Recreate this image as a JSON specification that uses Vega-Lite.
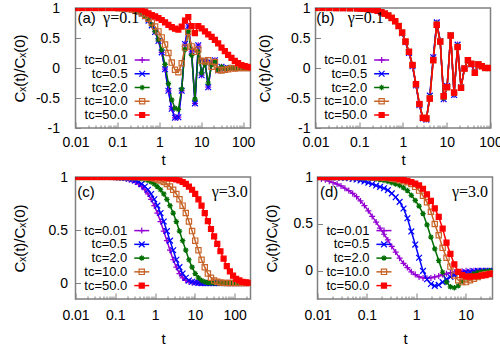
{
"$schema":"https://vega.github.io/schema/vega-lite/v6.json",
"padding":{"left":11.5,"top":0,"right":0,"bottom":0},
"background":"white",
"config":{
 "view":{"stroke":"#808080","strokeWidth":1.5},
 "axis":{"domain":false,"grid":false,"labelFont":"Liberation Sans","labelFontSize":14,"labelColor":"#000","titleFont":"Liberation Sans","titleFontSize":15,"titleFontWeight":"normal","titleColor":"#000","tickColor":"#808080","labelFlush":false,"labelOverlap":false,"labelBound":false}
},
"datasets":{
"a":[
{"s":"tc=0.01","t":0.01,"v":1},{"s":"tc=0.01","t":0.0144,"v":1},{"s":"tc=0.01","t":0.0207,"v":1},{"s":"tc=0.01","t":0.0299,"v":1},{"s":"tc=0.01","t":0.043,"v":1},{"s":"tc=0.01","t":0.0619,"v":1},{"s":"tc=0.01","t":0.0892,"v":0.999},{"s":"tc=0.01","t":0.107,"v":0.998},{"s":"tc=0.01","t":0.128,"v":0.996},{"s":"tc=0.01","t":0.154,"v":0.993},{"s":"tc=0.01","t":0.185,"v":0.985},{"s":"tc=0.01","t":0.222,"v":0.975},{"s":"tc=0.01","t":0.266,"v":0.96},{"s":"tc=0.01","t":0.319,"v":0.94},{"s":"tc=0.01","t":0.383,"v":0.91},{"s":"tc=0.01","t":0.46,"v":0.86},{"s":"tc=0.01","t":0.552,"v":0.79},{"s":"tc=0.01","t":0.662,"v":0.71},{"s":"tc=0.01","t":0.795,"v":0.6},{"s":"tc=0.01","t":0.954,"v":0.45},{"s":"tc=0.01","t":1.14,"v":0.26},{"s":"tc=0.01","t":1.37,"v":-0.02},{"s":"tc=0.01","t":1.65,"v":-0.38},{"s":"tc=0.01","t":1.98,"v":-0.68},{"s":"tc=0.01","t":2.37,"v":-0.83},{"s":"tc=0.01","t":2.85,"v":-0.82},{"s":"tc=0.01","t":3.42,"v":-0.38},{"s":"tc=0.01","t":4.1,"v":0.4},{"s":"tc=0.01","t":4.92,"v":0.7},{"s":"tc=0.01","t":5.91,"v":0.27},{"s":"tc=0.01","t":7.09,"v":-0.59},{"s":"tc=0.01","t":8.51,"v":0.38},{"s":"tc=0.01","t":10.2,"v":-0.12},{"s":"tc=0.01","t":12.3,"v":0.11},{"s":"tc=0.01","t":14.7,"v":-0.32},{"s":"tc=0.01","t":17.7,"v":0.09},{"s":"tc=0.01","t":21.2,"v":0.13},{"s":"tc=0.01","t":25.4,"v":-0.04},{"s":"tc=0.01","t":30.5,"v":0.02},{"s":"tc=0.01","t":36.6,"v":-0.01},{"s":"tc=0.01","t":43.9,"v":0},{"s":"tc=0.01","t":52.7,"v":0},{"s":"tc=0.01","t":63.3,"v":0},{"s":"tc=0.01","t":75.9,"v":0},{"s":"tc=0.01","t":91.1,"v":0},{"s":"tc=0.01","t":109,"v":0},{"s":"tc=0.01","t":131,"v":0},{"s":"tc=0.01","t":157,"v":0},
{"s":"tc=0.5","t":0.01,"v":1},{"s":"tc=0.5","t":0.0144,"v":1},{"s":"tc=0.5","t":0.0207,"v":1},{"s":"tc=0.5","t":0.0299,"v":1},{"s":"tc=0.5","t":0.043,"v":1},{"s":"tc=0.5","t":0.0619,"v":1},{"s":"tc=0.5","t":0.0892,"v":0.999},{"s":"tc=0.5","t":0.107,"v":0.998},{"s":"tc=0.5","t":0.128,"v":0.996},{"s":"tc=0.5","t":0.154,"v":0.993},{"s":"tc=0.5","t":0.185,"v":0.985},{"s":"tc=0.5","t":0.222,"v":0.975},{"s":"tc=0.5","t":0.266,"v":0.96},{"s":"tc=0.5","t":0.319,"v":0.94},{"s":"tc=0.5","t":0.383,"v":0.91},{"s":"tc=0.5","t":0.46,"v":0.86},{"s":"tc=0.5","t":0.552,"v":0.79},{"s":"tc=0.5","t":0.662,"v":0.71},{"s":"tc=0.5","t":0.795,"v":0.6},{"s":"tc=0.5","t":0.954,"v":0.45},{"s":"tc=0.5","t":1.14,"v":0.26},{"s":"tc=0.5","t":1.37,"v":-0.02},{"s":"tc=0.5","t":1.65,"v":-0.38},{"s":"tc=0.5","t":1.98,"v":-0.68},{"s":"tc=0.5","t":2.37,"v":-0.83},{"s":"tc=0.5","t":2.85,"v":-0.82},{"s":"tc=0.5","t":3.42,"v":-0.38},{"s":"tc=0.5","t":4.1,"v":0.4},{"s":"tc=0.5","t":4.92,"v":0.7},{"s":"tc=0.5","t":5.91,"v":0.27},{"s":"tc=0.5","t":7.09,"v":-0.59},{"s":"tc=0.5","t":8.51,"v":0.38},{"s":"tc=0.5","t":10.2,"v":-0.12},{"s":"tc=0.5","t":12.3,"v":0.11},{"s":"tc=0.5","t":14.7,"v":-0.32},{"s":"tc=0.5","t":17.7,"v":0.09},{"s":"tc=0.5","t":21.2,"v":0.13},{"s":"tc=0.5","t":25.4,"v":-0.04},{"s":"tc=0.5","t":30.5,"v":0.02},{"s":"tc=0.5","t":36.6,"v":-0.01},{"s":"tc=0.5","t":43.9,"v":0},{"s":"tc=0.5","t":52.7,"v":0},{"s":"tc=0.5","t":63.3,"v":0},{"s":"tc=0.5","t":75.9,"v":0},{"s":"tc=0.5","t":91.1,"v":0},{"s":"tc=0.5","t":109,"v":0},{"s":"tc=0.5","t":131,"v":0},{"s":"tc=0.5","t":157,"v":0},
{"s":"tc=2.0","t":0.01,"v":1},{"s":"tc=2.0","t":0.0144,"v":1},{"s":"tc=2.0","t":0.0207,"v":1},{"s":"tc=2.0","t":0.0299,"v":1},{"s":"tc=2.0","t":0.043,"v":1},{"s":"tc=2.0","t":0.0619,"v":1},{"s":"tc=2.0","t":0.0892,"v":0.999},{"s":"tc=2.0","t":0.107,"v":0.998},{"s":"tc=2.0","t":0.128,"v":0.996},{"s":"tc=2.0","t":0.154,"v":0.993},{"s":"tc=2.0","t":0.185,"v":0.987},{"s":"tc=2.0","t":0.222,"v":0.977},{"s":"tc=2.0","t":0.266,"v":0.963},{"s":"tc=2.0","t":0.319,"v":0.945},{"s":"tc=2.0","t":0.383,"v":0.915},{"s":"tc=2.0","t":0.46,"v":0.87},{"s":"tc=2.0","t":0.552,"v":0.8},{"s":"tc=2.0","t":0.662,"v":0.72},{"s":"tc=2.0","t":0.795,"v":0.61},{"s":"tc=2.0","t":0.954,"v":0.47},{"s":"tc=2.0","t":1.14,"v":0.3},{"s":"tc=2.0","t":1.37,"v":0.06},{"s":"tc=2.0","t":1.65,"v":-0.26},{"s":"tc=2.0","t":1.98,"v":-0.53},{"s":"tc=2.0","t":2.37,"v":-0.67},{"s":"tc=2.0","t":2.85,"v":-0.69},{"s":"tc=2.0","t":3.42,"v":-0.35},{"s":"tc=2.0","t":4.1,"v":0.31},{"s":"tc=2.0","t":4.92,"v":0.61},{"s":"tc=2.0","t":5.91,"v":0.21},{"s":"tc=2.0","t":7.09,"v":-0.52},{"s":"tc=2.0","t":8.51,"v":0.27},{"s":"tc=2.0","t":10.2,"v":-0.08},{"s":"tc=2.0","t":12.3,"v":0.07},{"s":"tc=2.0","t":14.7,"v":-0.25},{"s":"tc=2.0","t":17.7,"v":0.05},{"s":"tc=2.0","t":21.2,"v":0.11},{"s":"tc=2.0","t":25.4,"v":-0.03},{"s":"tc=2.0","t":30.5,"v":0.02},{"s":"tc=2.0","t":36.6,"v":-0.01},{"s":"tc=2.0","t":43.9,"v":0},{"s":"tc=2.0","t":52.7,"v":0},{"s":"tc=2.0","t":63.3,"v":0},{"s":"tc=2.0","t":75.9,"v":0},{"s":"tc=2.0","t":91.1,"v":0},{"s":"tc=2.0","t":109,"v":0},{"s":"tc=2.0","t":131,"v":0},{"s":"tc=2.0","t":157,"v":0},
{"s":"tc=10.0","t":0.01,"v":1},{"s":"tc=10.0","t":0.0144,"v":1},{"s":"tc=10.0","t":0.0207,"v":1},{"s":"tc=10.0","t":0.0299,"v":1},{"s":"tc=10.0","t":0.043,"v":1},{"s":"tc=10.0","t":0.0619,"v":1},{"s":"tc=10.0","t":0.0892,"v":0.998},{"s":"tc=10.0","t":0.107,"v":0.997},{"s":"tc=10.0","t":0.128,"v":0.995},{"s":"tc=10.0","t":0.154,"v":0.99},{"s":"tc=10.0","t":0.185,"v":0.985},{"s":"tc=10.0","t":0.222,"v":0.975},{"s":"tc=10.0","t":0.266,"v":0.96},{"s":"tc=10.0","t":0.319,"v":0.94},{"s":"tc=10.0","t":0.383,"v":0.91},{"s":"tc=10.0","t":0.46,"v":0.87},{"s":"tc=10.0","t":0.552,"v":0.82},{"s":"tc=10.0","t":0.662,"v":0.76},{"s":"tc=10.0","t":0.795,"v":0.69},{"s":"tc=10.0","t":0.954,"v":0.61},{"s":"tc=10.0","t":1.14,"v":0.51},{"s":"tc=10.0","t":1.37,"v":0.39},{"s":"tc=10.0","t":1.65,"v":0.25},{"s":"tc=10.0","t":1.98,"v":0.09},{"s":"tc=10.0","t":2.37,"v":-0.03},{"s":"tc=10.0","t":2.85,"v":-0.07},{"s":"tc=10.0","t":3.42,"v":0.08},{"s":"tc=10.0","t":4.1,"v":0.34},{"s":"tc=10.0","t":4.92,"v":0.6},{"s":"tc=10.0","t":5.91,"v":0.36},{"s":"tc=10.0","t":7.09,"v":0.27},{"s":"tc=10.0","t":8.51,"v":0.31},{"s":"tc=10.0","t":10.2,"v":0.12},{"s":"tc=10.0","t":12.3,"v":0.11},{"s":"tc=10.0","t":14.7,"v":0.13},{"s":"tc=10.0","t":17.7,"v":0.02},{"s":"tc=10.0","t":21.2,"v":0.1},{"s":"tc=10.0","t":25.4,"v":-0.03},{"s":"tc=10.0","t":30.5,"v":-0.04},{"s":"tc=10.0","t":36.6,"v":-0.03},{"s":"tc=10.0","t":43.9,"v":-0.02},{"s":"tc=10.0","t":52.7,"v":0},{"s":"tc=10.0","t":63.3,"v":-0.01},{"s":"tc=10.0","t":75.9,"v":0},{"s":"tc=10.0","t":91.1,"v":0},{"s":"tc=10.0","t":109,"v":0},{"s":"tc=10.0","t":131,"v":0},{"s":"tc=10.0","t":157,"v":0},
{"s":"tc=50.0","t":0.01,"v":1},{"s":"tc=50.0","t":0.0144,"v":1},{"s":"tc=50.0","t":0.0207,"v":1},{"s":"tc=50.0","t":0.0299,"v":1},{"s":"tc=50.0","t":0.043,"v":1},{"s":"tc=50.0","t":0.0619,"v":1},{"s":"tc=50.0","t":0.0892,"v":1},{"s":"tc=50.0","t":0.107,"v":1},{"s":"tc=50.0","t":0.128,"v":1},{"s":"tc=50.0","t":0.154,"v":0.999},{"s":"tc=50.0","t":0.185,"v":0.998},{"s":"tc=50.0","t":0.222,"v":0.996},{"s":"tc=50.0","t":0.266,"v":0.993},{"s":"tc=50.0","t":0.319,"v":0.985},{"s":"tc=50.0","t":0.383,"v":0.97},{"s":"tc=50.0","t":0.46,"v":0.94},{"s":"tc=50.0","t":0.552,"v":0.91},{"s":"tc=50.0","t":0.662,"v":0.88},{"s":"tc=50.0","t":0.795,"v":0.86},{"s":"tc=50.0","t":0.954,"v":0.83},{"s":"tc=50.0","t":1.14,"v":0.8},{"s":"tc=50.0","t":1.37,"v":0.76},{"s":"tc=50.0","t":1.65,"v":0.72},{"s":"tc=50.0","t":1.98,"v":0.68},{"s":"tc=50.0","t":2.37,"v":0.655},{"s":"tc=50.0","t":2.85,"v":0.64},{"s":"tc=50.0","t":3.42,"v":0.69},{"s":"tc=50.0","t":4.1,"v":0.79},{"s":"tc=50.0","t":4.92,"v":0.85},{"s":"tc=50.0","t":5.91,"v":0.7},{"s":"tc=50.0","t":7.09,"v":0.58},{"s":"tc=50.0","t":8.51,"v":0.7},{"s":"tc=50.0","t":10.2,"v":0.66},{"s":"tc=50.0","t":12.3,"v":0.61},{"s":"tc=50.0","t":14.7,"v":0.56},{"s":"tc=50.0","t":17.7,"v":0.52},{"s":"tc=50.0","t":21.2,"v":0.47},{"s":"tc=50.0","t":25.4,"v":0.41},{"s":"tc=50.0","t":30.5,"v":0.34},{"s":"tc=50.0","t":36.6,"v":0.28},{"s":"tc=50.0","t":43.9,"v":0.22},{"s":"tc=50.0","t":52.7,"v":0.17},{"s":"tc=50.0","t":63.3,"v":0.12},{"s":"tc=50.0","t":75.9,"v":0.08},{"s":"tc=50.0","t":91.1,"v":0.05},{"s":"tc=50.0","t":109,"v":0.03},{"s":"tc=50.0","t":131,"v":0.02},{"s":"tc=50.0","t":157,"v":0.01}
],
"b":[
{"s":"tc=0.01","t":0.01,"v":1},{"s":"tc=0.01","t":0.0144,"v":1},{"s":"tc=0.01","t":0.0207,"v":1},{"s":"tc=0.01","t":0.0299,"v":0.999},{"s":"tc=0.01","t":0.043,"v":0.998},{"s":"tc=0.01","t":0.0619,"v":0.997},{"s":"tc=0.01","t":0.0892,"v":0.995},{"s":"tc=0.01","t":0.107,"v":0.993},{"s":"tc=0.01","t":0.128,"v":0.99},{"s":"tc=0.01","t":0.154,"v":0.985},{"s":"tc=0.01","t":0.185,"v":0.978},{"s":"tc=0.01","t":0.222,"v":0.968},{"s":"tc=0.01","t":0.266,"v":0.952},{"s":"tc=0.01","t":0.319,"v":0.93},{"s":"tc=0.01","t":0.383,"v":0.905},{"s":"tc=0.01","t":0.46,"v":0.875},{"s":"tc=0.01","t":0.552,"v":0.835},{"s":"tc=0.01","t":0.662,"v":0.78},{"s":"tc=0.01","t":0.795,"v":0.695},{"s":"tc=0.01","t":0.954,"v":0.58},{"s":"tc=0.01","t":1.14,"v":0.43},{"s":"tc=0.01","t":1.37,"v":0.25},{"s":"tc=0.01","t":1.65,"v":0.03},{"s":"tc=0.01","t":1.98,"v":-0.29},{"s":"tc=0.01","t":2.37,"v":-0.62},{"s":"tc=0.01","t":2.85,"v":-0.84},{"s":"tc=0.01","t":3.42,"v":-0.86},{"s":"tc=0.01","t":4.1,"v":-0.46},{"s":"tc=0.01","t":4.92,"v":0.18},{"s":"tc=0.01","t":5.91,"v":0.76},{"s":"tc=0.01","t":7.09,"v":0.45},{"s":"tc=0.01","t":8.51,"v":-0.52},{"s":"tc=0.01","t":10.2,"v":-0.3},{"s":"tc=0.01","t":12.3,"v":0.55},{"s":"tc=0.01","t":14.7,"v":-0.45},{"s":"tc=0.01","t":17.7,"v":0.39},{"s":"tc=0.01","t":21.2,"v":-0.32},{"s":"tc=0.01","t":25.4,"v":0},{"s":"tc=0.01","t":30.5,"v":0.13},{"s":"tc=0.01","t":36.6,"v":0.06},{"s":"tc=0.01","t":43.9,"v":-0.07},{"s":"tc=0.01","t":52.7,"v":0.06},{"s":"tc=0.01","t":63.3,"v":0.03},{"s":"tc=0.01","t":75.9,"v":0},{"s":"tc=0.01","t":91.1,"v":0},{"s":"tc=0.01","t":109,"v":0},
{"s":"tc=0.5","t":0.01,"v":1},{"s":"tc=0.5","t":0.0144,"v":1},{"s":"tc=0.5","t":0.0207,"v":1},{"s":"tc=0.5","t":0.0299,"v":0.999},{"s":"tc=0.5","t":0.043,"v":0.998},{"s":"tc=0.5","t":0.0619,"v":0.997},{"s":"tc=0.5","t":0.0892,"v":0.995},{"s":"tc=0.5","t":0.107,"v":0.993},{"s":"tc=0.5","t":0.128,"v":0.99},{"s":"tc=0.5","t":0.154,"v":0.985},{"s":"tc=0.5","t":0.185,"v":0.978},{"s":"tc=0.5","t":0.222,"v":0.968},{"s":"tc=0.5","t":0.266,"v":0.952},{"s":"tc=0.5","t":0.319,"v":0.93},{"s":"tc=0.5","t":0.383,"v":0.905},{"s":"tc=0.5","t":0.46,"v":0.875},{"s":"tc=0.5","t":0.552,"v":0.835},{"s":"tc=0.5","t":0.662,"v":0.78},{"s":"tc=0.5","t":0.795,"v":0.695},{"s":"tc=0.5","t":0.954,"v":0.58},{"s":"tc=0.5","t":1.14,"v":0.43},{"s":"tc=0.5","t":1.37,"v":0.25},{"s":"tc=0.5","t":1.65,"v":0.03},{"s":"tc=0.5","t":1.98,"v":-0.29},{"s":"tc=0.5","t":2.37,"v":-0.62},{"s":"tc=0.5","t":2.85,"v":-0.84},{"s":"tc=0.5","t":3.42,"v":-0.86},{"s":"tc=0.5","t":4.1,"v":-0.46},{"s":"tc=0.5","t":4.92,"v":0.18},{"s":"tc=0.5","t":5.91,"v":0.76},{"s":"tc=0.5","t":7.09,"v":0.45},{"s":"tc=0.5","t":8.51,"v":-0.52},{"s":"tc=0.5","t":10.2,"v":-0.3},{"s":"tc=0.5","t":12.3,"v":0.55},{"s":"tc=0.5","t":14.7,"v":-0.45},{"s":"tc=0.5","t":17.7,"v":0.39},{"s":"tc=0.5","t":21.2,"v":-0.32},{"s":"tc=0.5","t":25.4,"v":0},{"s":"tc=0.5","t":30.5,"v":0.13},{"s":"tc=0.5","t":36.6,"v":0.06},{"s":"tc=0.5","t":43.9,"v":-0.07},{"s":"tc=0.5","t":52.7,"v":0.06},{"s":"tc=0.5","t":63.3,"v":0.03},{"s":"tc=0.5","t":75.9,"v":0},{"s":"tc=0.5","t":91.1,"v":0},{"s":"tc=0.5","t":109,"v":0},
{"s":"tc=2.0","t":0.01,"v":1},{"s":"tc=2.0","t":0.0144,"v":1},{"s":"tc=2.0","t":0.0207,"v":1},{"s":"tc=2.0","t":0.0299,"v":0.999},{"s":"tc=2.0","t":0.043,"v":0.998},{"s":"tc=2.0","t":0.0619,"v":0.997},{"s":"tc=2.0","t":0.0892,"v":0.995},{"s":"tc=2.0","t":0.107,"v":0.993},{"s":"tc=2.0","t":0.128,"v":0.99},{"s":"tc=2.0","t":0.154,"v":0.985},{"s":"tc=2.0","t":0.185,"v":0.978},{"s":"tc=2.0","t":0.222,"v":0.968},{"s":"tc=2.0","t":0.266,"v":0.952},{"s":"tc=2.0","t":0.319,"v":0.93},{"s":"tc=2.0","t":0.383,"v":0.905},{"s":"tc=2.0","t":0.46,"v":0.875},{"s":"tc=2.0","t":0.552,"v":0.835},{"s":"tc=2.0","t":0.662,"v":0.78},{"s":"tc=2.0","t":0.795,"v":0.7},{"s":"tc=2.0","t":0.954,"v":0.59},{"s":"tc=2.0","t":1.14,"v":0.44},{"s":"tc=2.0","t":1.37,"v":0.27},{"s":"tc=2.0","t":1.65,"v":0.05},{"s":"tc=2.0","t":1.98,"v":-0.27},{"s":"tc=2.0","t":2.37,"v":-0.6},{"s":"tc=2.0","t":2.85,"v":-0.835},{"s":"tc=2.0","t":3.42,"v":-0.85},{"s":"tc=2.0","t":4.1,"v":-0.48},{"s":"tc=2.0","t":4.92,"v":0.15},{"s":"tc=2.0","t":5.91,"v":0.74},{"s":"tc=2.0","t":7.09,"v":0.44},{"s":"tc=2.0","t":8.51,"v":-0.5},{"s":"tc=2.0","t":10.2,"v":-0.31},{"s":"tc=2.0","t":12.3,"v":0.545},{"s":"tc=2.0","t":14.7,"v":-0.43},{"s":"tc=2.0","t":17.7,"v":0.37},{"s":"tc=2.0","t":21.2,"v":-0.325},{"s":"tc=2.0","t":25.4,"v":-0.005},{"s":"tc=2.0","t":30.5,"v":0.13},{"s":"tc=2.0","t":36.6,"v":0.065},{"s":"tc=2.0","t":43.9,"v":-0.075},{"s":"tc=2.0","t":52.7,"v":0.06},{"s":"tc=2.0","t":63.3,"v":0.03},{"s":"tc=2.0","t":75.9,"v":0},{"s":"tc=2.0","t":91.1,"v":0},{"s":"tc=2.0","t":109,"v":0},
{"s":"tc=10.0","t":0.01,"v":1},{"s":"tc=10.0","t":0.0144,"v":1},{"s":"tc=10.0","t":0.0207,"v":1},{"s":"tc=10.0","t":0.0299,"v":0.999},{"s":"tc=10.0","t":0.043,"v":0.998},{"s":"tc=10.0","t":0.0619,"v":0.997},{"s":"tc=10.0","t":0.0892,"v":0.995},{"s":"tc=10.0","t":0.107,"v":0.993},{"s":"tc=10.0","t":0.128,"v":0.99},{"s":"tc=10.0","t":0.154,"v":0.985},{"s":"tc=10.0","t":0.185,"v":0.978},{"s":"tc=10.0","t":0.222,"v":0.968},{"s":"tc=10.0","t":0.266,"v":0.952},{"s":"tc=10.0","t":0.319,"v":0.93},{"s":"tc=10.0","t":0.383,"v":0.905},{"s":"tc=10.0","t":0.46,"v":0.875},{"s":"tc=10.0","t":0.552,"v":0.835},{"s":"tc=10.0","t":0.662,"v":0.78},{"s":"tc=10.0","t":0.795,"v":0.7},{"s":"tc=10.0","t":0.954,"v":0.59},{"s":"tc=10.0","t":1.14,"v":0.44},{"s":"tc=10.0","t":1.37,"v":0.27},{"s":"tc=10.0","t":1.65,"v":0.05},{"s":"tc=10.0","t":1.98,"v":-0.27},{"s":"tc=10.0","t":2.37,"v":-0.6},{"s":"tc=10.0","t":2.85,"v":-0.83},{"s":"tc=10.0","t":3.42,"v":-0.84},{"s":"tc=10.0","t":4.1,"v":-0.51},{"s":"tc=10.0","t":4.92,"v":0.13},{"s":"tc=10.0","t":5.91,"v":0.72},{"s":"tc=10.0","t":7.09,"v":0.44},{"s":"tc=10.0","t":8.51,"v":-0.47},{"s":"tc=10.0","t":10.2,"v":-0.32},{"s":"tc=10.0","t":12.3,"v":0.54},{"s":"tc=10.0","t":14.7,"v":-0.41},{"s":"tc=10.0","t":17.7,"v":0.35},{"s":"tc=10.0","t":21.2,"v":-0.33},{"s":"tc=10.0","t":25.4,"v":-0.01},{"s":"tc=10.0","t":30.5,"v":0.13},{"s":"tc=10.0","t":36.6,"v":0.07},{"s":"tc=10.0","t":43.9,"v":-0.08},{"s":"tc=10.0","t":52.7,"v":0.06},{"s":"tc=10.0","t":63.3,"v":0.03},{"s":"tc=10.0","t":75.9,"v":0},{"s":"tc=10.0","t":91.1,"v":0},{"s":"tc=10.0","t":109,"v":0},
{"s":"tc=50.0","t":0.01,"v":1},{"s":"tc=50.0","t":0.0144,"v":1},{"s":"tc=50.0","t":0.0207,"v":1},{"s":"tc=50.0","t":0.0299,"v":0.999},{"s":"tc=50.0","t":0.043,"v":0.998},{"s":"tc=50.0","t":0.0619,"v":0.997},{"s":"tc=50.0","t":0.0892,"v":0.995},{"s":"tc=50.0","t":0.107,"v":0.993},{"s":"tc=50.0","t":0.128,"v":0.99},{"s":"tc=50.0","t":0.154,"v":0.985},{"s":"tc=50.0","t":0.185,"v":0.978},{"s":"tc=50.0","t":0.222,"v":0.968},{"s":"tc=50.0","t":0.266,"v":0.952},{"s":"tc=50.0","t":0.319,"v":0.93},{"s":"tc=50.0","t":0.383,"v":0.905},{"s":"tc=50.0","t":0.46,"v":0.875},{"s":"tc=50.0","t":0.552,"v":0.835},{"s":"tc=50.0","t":0.662,"v":0.78},{"s":"tc=50.0","t":0.795,"v":0.7},{"s":"tc=50.0","t":0.954,"v":0.59},{"s":"tc=50.0","t":1.14,"v":0.44},{"s":"tc=50.0","t":1.37,"v":0.27},{"s":"tc=50.0","t":1.65,"v":0.05},{"s":"tc=50.0","t":1.98,"v":-0.27},{"s":"tc=50.0","t":2.37,"v":-0.6},{"s":"tc=50.0","t":2.85,"v":-0.83},{"s":"tc=50.0","t":3.42,"v":-0.84},{"s":"tc=50.0","t":4.1,"v":-0.51},{"s":"tc=50.0","t":4.92,"v":0.13},{"s":"tc=50.0","t":5.91,"v":0.72},{"s":"tc=50.0","t":7.09,"v":0.44},{"s":"tc=50.0","t":8.51,"v":-0.47},{"s":"tc=50.0","t":10.2,"v":-0.32},{"s":"tc=50.0","t":12.3,"v":0.54},{"s":"tc=50.0","t":14.7,"v":-0.41},{"s":"tc=50.0","t":17.7,"v":0.35},{"s":"tc=50.0","t":21.2,"v":-0.33},{"s":"tc=50.0","t":25.4,"v":-0.01},{"s":"tc=50.0","t":30.5,"v":0.13},{"s":"tc=50.0","t":36.6,"v":0.07},{"s":"tc=50.0","t":43.9,"v":-0.08},{"s":"tc=50.0","t":52.7,"v":0.06},{"s":"tc=50.0","t":63.3,"v":0.03},{"s":"tc=50.0","t":75.9,"v":0},{"s":"tc=50.0","t":91.1,"v":0},{"s":"tc=50.0","t":109,"v":0}
],
"c":[
{"s":"tc=0.01","t":0.01,"v":1},{"s":"tc=0.01","t":0.0144,"v":1},{"s":"tc=0.01","t":0.0207,"v":1},{"s":"tc=0.01","t":0.0299,"v":1},{"s":"tc=0.01","t":0.043,"v":1},{"s":"tc=0.01","t":0.0619,"v":0.999},{"s":"tc=0.01","t":0.0892,"v":0.998},{"s":"tc=0.01","t":0.107,"v":0.996},{"s":"tc=0.01","t":0.128,"v":0.993},{"s":"tc=0.01","t":0.154,"v":0.99},{"s":"tc=0.01","t":0.185,"v":0.985},{"s":"tc=0.01","t":0.222,"v":0.977},{"s":"tc=0.01","t":0.266,"v":0.967},{"s":"tc=0.01","t":0.319,"v":0.953},{"s":"tc=0.01","t":0.383,"v":0.935},{"s":"tc=0.01","t":0.46,"v":0.91},{"s":"tc=0.01","t":0.552,"v":0.88},{"s":"tc=0.01","t":0.662,"v":0.84},{"s":"tc=0.01","t":0.795,"v":0.79},{"s":"tc=0.01","t":0.954,"v":0.73},{"s":"tc=0.01","t":1.14,"v":0.66},{"s":"tc=0.01","t":1.37,"v":0.58},{"s":"tc=0.01","t":1.65,"v":0.49},{"s":"tc=0.01","t":1.98,"v":0.4},{"s":"tc=0.01","t":2.37,"v":0.31},{"s":"tc=0.01","t":2.85,"v":0.22},{"s":"tc=0.01","t":3.42,"v":0.15},{"s":"tc=0.01","t":4.1,"v":0.09},{"s":"tc=0.01","t":4.92,"v":0.05},{"s":"tc=0.01","t":5.91,"v":0.025},{"s":"tc=0.01","t":7.09,"v":0.012},{"s":"tc=0.01","t":8.51,"v":0.005},{"s":"tc=0.01","t":10.2,"v":0.002},{"s":"tc=0.01","t":12.3,"v":0},{"s":"tc=0.01","t":14.7,"v":0},{"s":"tc=0.01","t":17.7,"v":0},{"s":"tc=0.01","t":21.2,"v":0},{"s":"tc=0.01","t":25.4,"v":0},{"s":"tc=0.01","t":30.5,"v":0},{"s":"tc=0.01","t":36.6,"v":0},{"s":"tc=0.01","t":43.9,"v":0},{"s":"tc=0.01","t":52.7,"v":0},{"s":"tc=0.01","t":63.3,"v":0},{"s":"tc=0.01","t":75.9,"v":0},{"s":"tc=0.01","t":91.1,"v":0},{"s":"tc=0.01","t":109,"v":0},{"s":"tc=0.01","t":131,"v":0},{"s":"tc=0.01","t":157,"v":0},{"s":"tc=0.01","t":189,"v":0},{"s":"tc=0.01","t":227,"v":0},
{"s":"tc=0.5","t":0.01,"v":1},{"s":"tc=0.5","t":0.0144,"v":1},{"s":"tc=0.5","t":0.0207,"v":1},{"s":"tc=0.5","t":0.0299,"v":1},{"s":"tc=0.5","t":0.043,"v":1},{"s":"tc=0.5","t":0.0619,"v":1},{"s":"tc=0.5","t":0.0892,"v":0.999},{"s":"tc=0.5","t":0.107,"v":0.998},{"s":"tc=0.5","t":0.128,"v":0.996},{"s":"tc=0.5","t":0.154,"v":0.993},{"s":"tc=0.5","t":0.185,"v":0.99},{"s":"tc=0.5","t":0.222,"v":0.985},{"s":"tc=0.5","t":0.266,"v":0.977},{"s":"tc=0.5","t":0.319,"v":0.967},{"s":"tc=0.5","t":0.383,"v":0.953},{"s":"tc=0.5","t":0.46,"v":0.935},{"s":"tc=0.5","t":0.552,"v":0.91},{"s":"tc=0.5","t":0.662,"v":0.88},{"s":"tc=0.5","t":0.795,"v":0.84},{"s":"tc=0.5","t":0.954,"v":0.79},{"s":"tc=0.5","t":1.14,"v":0.73},{"s":"tc=0.5","t":1.37,"v":0.66},{"s":"tc=0.5","t":1.65,"v":0.58},{"s":"tc=0.5","t":1.98,"v":0.49},{"s":"tc=0.5","t":2.37,"v":0.4},{"s":"tc=0.5","t":2.85,"v":0.31},{"s":"tc=0.5","t":3.42,"v":0.22},{"s":"tc=0.5","t":4.1,"v":0.15},{"s":"tc=0.5","t":4.92,"v":0.09},{"s":"tc=0.5","t":5.91,"v":0.05},{"s":"tc=0.5","t":7.09,"v":0.025},{"s":"tc=0.5","t":8.51,"v":0.012},{"s":"tc=0.5","t":10.2,"v":0.005},{"s":"tc=0.5","t":12.3,"v":0.002},{"s":"tc=0.5","t":14.7,"v":0},{"s":"tc=0.5","t":17.7,"v":0},{"s":"tc=0.5","t":21.2,"v":0},{"s":"tc=0.5","t":25.4,"v":0},{"s":"tc=0.5","t":30.5,"v":0},{"s":"tc=0.5","t":36.6,"v":0},{"s":"tc=0.5","t":43.9,"v":0},{"s":"tc=0.5","t":52.7,"v":0},{"s":"tc=0.5","t":63.3,"v":0},{"s":"tc=0.5","t":75.9,"v":0},{"s":"tc=0.5","t":91.1,"v":0},{"s":"tc=0.5","t":109,"v":0},{"s":"tc=0.5","t":131,"v":0},{"s":"tc=0.5","t":157,"v":0},{"s":"tc=0.5","t":189,"v":0},{"s":"tc=0.5","t":227,"v":0},
{"s":"tc=2.0","t":0.01,"v":1},{"s":"tc=2.0","t":0.0144,"v":1},{"s":"tc=2.0","t":0.0207,"v":1},{"s":"tc=2.0","t":0.0299,"v":1},{"s":"tc=2.0","t":0.043,"v":1},{"s":"tc=2.0","t":0.0619,"v":1},{"s":"tc=2.0","t":0.0892,"v":1},{"s":"tc=2.0","t":0.107,"v":1},{"s":"tc=2.0","t":0.128,"v":1},{"s":"tc=2.0","t":0.154,"v":0.999},{"s":"tc=2.0","t":0.185,"v":0.999},{"s":"tc=2.0","t":0.222,"v":0.998},{"s":"tc=2.0","t":0.266,"v":0.996},{"s":"tc=2.0","t":0.319,"v":0.993},{"s":"tc=2.0","t":0.383,"v":0.99},{"s":"tc=2.0","t":0.46,"v":0.985},{"s":"tc=2.0","t":0.552,"v":0.977},{"s":"tc=2.0","t":0.662,"v":0.967},{"s":"tc=2.0","t":0.795,"v":0.953},{"s":"tc=2.0","t":0.954,"v":0.935},{"s":"tc=2.0","t":1.14,"v":0.91},{"s":"tc=2.0","t":1.37,"v":0.88},{"s":"tc=2.0","t":1.65,"v":0.84},{"s":"tc=2.0","t":1.98,"v":0.79},{"s":"tc=2.0","t":2.37,"v":0.73},{"s":"tc=2.0","t":2.85,"v":0.66},{"s":"tc=2.0","t":3.42,"v":0.58},{"s":"tc=2.0","t":4.1,"v":0.49},{"s":"tc=2.0","t":4.92,"v":0.4},{"s":"tc=2.0","t":5.91,"v":0.31},{"s":"tc=2.0","t":7.09,"v":0.22},{"s":"tc=2.0","t":8.51,"v":0.15},{"s":"tc=2.0","t":10.2,"v":0.09},{"s":"tc=2.0","t":12.3,"v":0.05},{"s":"tc=2.0","t":14.7,"v":0.025},{"s":"tc=2.0","t":17.7,"v":0.012},{"s":"tc=2.0","t":21.2,"v":0.005},{"s":"tc=2.0","t":25.4,"v":0.002},{"s":"tc=2.0","t":30.5,"v":0},{"s":"tc=2.0","t":36.6,"v":0},{"s":"tc=2.0","t":43.9,"v":0},{"s":"tc=2.0","t":52.7,"v":0},{"s":"tc=2.0","t":63.3,"v":0},{"s":"tc=2.0","t":75.9,"v":0},{"s":"tc=2.0","t":91.1,"v":0},{"s":"tc=2.0","t":109,"v":0},{"s":"tc=2.0","t":131,"v":0},{"s":"tc=2.0","t":157,"v":0},{"s":"tc=2.0","t":189,"v":0},{"s":"tc=2.0","t":227,"v":0},
{"s":"tc=10.0","t":0.01,"v":1},{"s":"tc=10.0","t":0.0144,"v":1},{"s":"tc=10.0","t":0.0207,"v":1},{"s":"tc=10.0","t":0.0299,"v":1},{"s":"tc=10.0","t":0.043,"v":1},{"s":"tc=10.0","t":0.0619,"v":1},{"s":"tc=10.0","t":0.0892,"v":1},{"s":"tc=10.0","t":0.107,"v":1},{"s":"tc=10.0","t":0.128,"v":1},{"s":"tc=10.0","t":0.154,"v":1},{"s":"tc=10.0","t":0.185,"v":1},{"s":"tc=10.0","t":0.222,"v":1},{"s":"tc=10.0","t":0.266,"v":1},{"s":"tc=10.0","t":0.319,"v":0.999},{"s":"tc=10.0","t":0.383,"v":0.999},{"s":"tc=10.0","t":0.46,"v":0.998},{"s":"tc=10.0","t":0.552,"v":0.996},{"s":"tc=10.0","t":0.662,"v":0.993},{"s":"tc=10.0","t":0.795,"v":0.99},{"s":"tc=10.0","t":0.954,"v":0.985},{"s":"tc=10.0","t":1.14,"v":0.977},{"s":"tc=10.0","t":1.37,"v":0.967},{"s":"tc=10.0","t":1.65,"v":0.953},{"s":"tc=10.0","t":1.98,"v":0.935},{"s":"tc=10.0","t":2.37,"v":0.91},{"s":"tc=10.0","t":2.85,"v":0.88},{"s":"tc=10.0","t":3.42,"v":0.84},{"s":"tc=10.0","t":4.1,"v":0.79},{"s":"tc=10.0","t":4.92,"v":0.73},{"s":"tc=10.0","t":5.91,"v":0.66},{"s":"tc=10.0","t":7.09,"v":0.58},{"s":"tc=10.0","t":8.51,"v":0.49},{"s":"tc=10.0","t":10.2,"v":0.4},{"s":"tc=10.0","t":12.3,"v":0.31},{"s":"tc=10.0","t":14.7,"v":0.22},{"s":"tc=10.0","t":17.7,"v":0.15},{"s":"tc=10.0","t":21.2,"v":0.09},{"s":"tc=10.0","t":25.4,"v":0.05},{"s":"tc=10.0","t":30.5,"v":0.025},{"s":"tc=10.0","t":36.6,"v":0.012},{"s":"tc=10.0","t":43.9,"v":0.005},{"s":"tc=10.0","t":52.7,"v":0.002},{"s":"tc=10.0","t":63.3,"v":0},{"s":"tc=10.0","t":75.9,"v":0},{"s":"tc=10.0","t":91.1,"v":0},{"s":"tc=10.0","t":109,"v":0},{"s":"tc=10.0","t":131,"v":0},{"s":"tc=10.0","t":157,"v":0},{"s":"tc=10.0","t":189,"v":0},{"s":"tc=10.0","t":227,"v":0},
{"s":"tc=50.0","t":0.01,"v":1},{"s":"tc=50.0","t":0.0144,"v":1},{"s":"tc=50.0","t":0.0207,"v":1},{"s":"tc=50.0","t":0.0299,"v":1},{"s":"tc=50.0","t":0.043,"v":1},{"s":"tc=50.0","t":0.0619,"v":1},{"s":"tc=50.0","t":0.0892,"v":1},{"s":"tc=50.0","t":0.107,"v":1},{"s":"tc=50.0","t":0.128,"v":1},{"s":"tc=50.0","t":0.154,"v":1},{"s":"tc=50.0","t":0.185,"v":1},{"s":"tc=50.0","t":0.222,"v":1},{"s":"tc=50.0","t":0.266,"v":1},{"s":"tc=50.0","t":0.319,"v":1},{"s":"tc=50.0","t":0.383,"v":1},{"s":"tc=50.0","t":0.46,"v":1},{"s":"tc=50.0","t":0.552,"v":1},{"s":"tc=50.0","t":0.662,"v":0.999},{"s":"tc=50.0","t":0.795,"v":0.999},{"s":"tc=50.0","t":0.954,"v":0.999},{"s":"tc=50.0","t":1.14,"v":0.999},{"s":"tc=50.0","t":1.37,"v":0.998},{"s":"tc=50.0","t":1.65,"v":0.996},{"s":"tc=50.0","t":1.98,"v":0.993},{"s":"tc=50.0","t":2.37,"v":0.99},{"s":"tc=50.0","t":2.85,"v":0.985},{"s":"tc=50.0","t":3.42,"v":0.977},{"s":"tc=50.0","t":4.1,"v":0.967},{"s":"tc=50.0","t":4.92,"v":0.953},{"s":"tc=50.0","t":5.91,"v":0.935},{"s":"tc=50.0","t":7.09,"v":0.91},{"s":"tc=50.0","t":8.51,"v":0.88},{"s":"tc=50.0","t":10.2,"v":0.84},{"s":"tc=50.0","t":12.3,"v":0.79},{"s":"tc=50.0","t":14.7,"v":0.73},{"s":"tc=50.0","t":17.7,"v":0.66},{"s":"tc=50.0","t":21.2,"v":0.585},{"s":"tc=50.0","t":25.4,"v":0.51},{"s":"tc=50.0","t":30.5,"v":0.44},{"s":"tc=50.0","t":36.6,"v":0.37},{"s":"tc=50.0","t":43.9,"v":0.3},{"s":"tc=50.0","t":52.7,"v":0.23},{"s":"tc=50.0","t":63.3,"v":0.16},{"s":"tc=50.0","t":75.9,"v":0.11},{"s":"tc=50.0","t":91.1,"v":0.07},{"s":"tc=50.0","t":109,"v":0.04},{"s":"tc=50.0","t":131,"v":0.025},{"s":"tc=50.0","t":157,"v":0.012},{"s":"tc=50.0","t":189,"v":0.006},{"s":"tc=50.0","t":227,"v":0.003}
],
"d":[
{"s":"tc=0.01","t":0.01,"v":0.99},{"s":"tc=0.01","t":0.012,"v":0.98},{"s":"tc=0.01","t":0.0144,"v":0.97},{"s":"tc=0.01","t":0.0173,"v":0.955},{"s":"tc=0.01","t":0.0207,"v":0.94},{"s":"tc=0.01","t":0.0249,"v":0.925},{"s":"tc=0.01","t":0.0299,"v":0.905},{"s":"tc=0.01","t":0.0358,"v":0.88},{"s":"tc=0.01","t":0.043,"v":0.855},{"s":"tc=0.01","t":0.0516,"v":0.825},{"s":"tc=0.01","t":0.0619,"v":0.79},{"s":"tc=0.01","t":0.0743,"v":0.745},{"s":"tc=0.01","t":0.0892,"v":0.695},{"s":"tc=0.01","t":0.107,"v":0.64},{"s":"tc=0.01","t":0.128,"v":0.58},{"s":"tc=0.01","t":0.154,"v":0.52},{"s":"tc=0.01","t":0.185,"v":0.455},{"s":"tc=0.01","t":0.222,"v":0.39},{"s":"tc=0.01","t":0.266,"v":0.33},{"s":"tc=0.01","t":0.319,"v":0.26},{"s":"tc=0.01","t":0.383,"v":0.2},{"s":"tc=0.01","t":0.46,"v":0.135},{"s":"tc=0.01","t":0.552,"v":0.08},{"s":"tc=0.01","t":0.662,"v":0.035},{"s":"tc=0.01","t":0.795,"v":-0.01},{"s":"tc=0.01","t":0.954,"v":-0.04},{"s":"tc=0.01","t":1.14,"v":-0.065},{"s":"tc=0.01","t":1.37,"v":-0.075},{"s":"tc=0.01","t":1.65,"v":-0.08},{"s":"tc=0.01","t":1.98,"v":-0.075},{"s":"tc=0.01","t":2.37,"v":-0.065},{"s":"tc=0.01","t":2.85,"v":-0.055},{"s":"tc=0.01","t":3.42,"v":-0.04},{"s":"tc=0.01","t":4.1,"v":-0.03},{"s":"tc=0.01","t":4.92,"v":-0.02},{"s":"tc=0.01","t":5.91,"v":-0.015},{"s":"tc=0.01","t":7.09,"v":-0.01},{"s":"tc=0.01","t":8.51,"v":-0.005},{"s":"tc=0.01","t":10.2,"v":0},{"s":"tc=0.01","t":12.3,"v":0},{"s":"tc=0.01","t":14.7,"v":0},{"s":"tc=0.01","t":17.7,"v":0},{"s":"tc=0.01","t":21.2,"v":0},{"s":"tc=0.01","t":25.4,"v":0},{"s":"tc=0.01","t":30.5,"v":0},{"s":"tc=0.01","t":36.6,"v":0},
{"s":"tc=0.5","t":0.01,"v":1},{"s":"tc=0.5","t":0.012,"v":1},{"s":"tc=0.5","t":0.0144,"v":0.999},{"s":"tc=0.5","t":0.0173,"v":0.998},{"s":"tc=0.5","t":0.0207,"v":0.997},{"s":"tc=0.5","t":0.0249,"v":0.995},{"s":"tc=0.5","t":0.0299,"v":0.993},{"s":"tc=0.5","t":0.0358,"v":0.99},{"s":"tc=0.5","t":0.043,"v":0.986},{"s":"tc=0.5","t":0.0516,"v":0.98},{"s":"tc=0.5","t":0.0619,"v":0.973},{"s":"tc=0.5","t":0.0743,"v":0.963},{"s":"tc=0.5","t":0.0892,"v":0.952},{"s":"tc=0.5","t":0.107,"v":0.94},{"s":"tc=0.5","t":0.128,"v":0.925},{"s":"tc=0.5","t":0.154,"v":0.91},{"s":"tc=0.5","t":0.185,"v":0.895},{"s":"tc=0.5","t":0.222,"v":0.88},{"s":"tc=0.5","t":0.266,"v":0.86},{"s":"tc=0.5","t":0.319,"v":0.825},{"s":"tc=0.5","t":0.383,"v":0.785},{"s":"tc=0.5","t":0.46,"v":0.735},{"s":"tc=0.5","t":0.552,"v":0.665},{"s":"tc=0.5","t":0.662,"v":0.56},{"s":"tc=0.5","t":0.795,"v":0.42},{"s":"tc=0.5","t":0.954,"v":0.28},{"s":"tc=0.5","t":1.14,"v":0.14},{"s":"tc=0.5","t":1.37,"v":0},{"s":"tc=0.5","t":1.65,"v":-0.09},{"s":"tc=0.5","t":1.98,"v":-0.14},{"s":"tc=0.5","t":2.37,"v":-0.16},{"s":"tc=0.5","t":2.85,"v":-0.15},{"s":"tc=0.5","t":3.42,"v":-0.12},{"s":"tc=0.5","t":4.1,"v":-0.09},{"s":"tc=0.5","t":4.92,"v":-0.065},{"s":"tc=0.5","t":5.91,"v":-0.045},{"s":"tc=0.5","t":7.09,"v":-0.03},{"s":"tc=0.5","t":8.51,"v":-0.02},{"s":"tc=0.5","t":10.2,"v":-0.015},{"s":"tc=0.5","t":12.3,"v":-0.01},{"s":"tc=0.5","t":14.7,"v":-0.005},{"s":"tc=0.5","t":17.7,"v":0},{"s":"tc=0.5","t":21.2,"v":0},{"s":"tc=0.5","t":25.4,"v":0},{"s":"tc=0.5","t":30.5,"v":0},{"s":"tc=0.5","t":36.6,"v":0},
{"s":"tc=2.0","t":0.01,"v":1},{"s":"tc=2.0","t":0.012,"v":1},{"s":"tc=2.0","t":0.0144,"v":1},{"s":"tc=2.0","t":0.0173,"v":1},{"s":"tc=2.0","t":0.0207,"v":1},{"s":"tc=2.0","t":0.0249,"v":1},{"s":"tc=2.0","t":0.0299,"v":1},{"s":"tc=2.0","t":0.0358,"v":1},{"s":"tc=2.0","t":0.043,"v":0.999},{"s":"tc=2.0","t":0.0516,"v":0.998},{"s":"tc=2.0","t":0.0619,"v":0.997},{"s":"tc=2.0","t":0.0743,"v":0.995},{"s":"tc=2.0","t":0.0892,"v":0.993},{"s":"tc=2.0","t":0.107,"v":0.99},{"s":"tc=2.0","t":0.128,"v":0.986},{"s":"tc=2.0","t":0.154,"v":0.98},{"s":"tc=2.0","t":0.185,"v":0.973},{"s":"tc=2.0","t":0.222,"v":0.963},{"s":"tc=2.0","t":0.266,"v":0.952},{"s":"tc=2.0","t":0.319,"v":0.94},{"s":"tc=2.0","t":0.383,"v":0.925},{"s":"tc=2.0","t":0.46,"v":0.91},{"s":"tc=2.0","t":0.552,"v":0.885},{"s":"tc=2.0","t":0.662,"v":0.855},{"s":"tc=2.0","t":0.795,"v":0.805},{"s":"tc=2.0","t":0.954,"v":0.75},{"s":"tc=2.0","t":1.14,"v":0.69},{"s":"tc=2.0","t":1.37,"v":0.61},{"s":"tc=2.0","t":1.65,"v":0.49},{"s":"tc=2.0","t":1.98,"v":0.36},{"s":"tc=2.0","t":2.37,"v":0.235},{"s":"tc=2.0","t":2.85,"v":0.11},{"s":"tc=2.0","t":3.42,"v":-0.015},{"s":"tc=2.0","t":4.1,"v":-0.12},{"s":"tc=2.0","t":4.92,"v":-0.17},{"s":"tc=2.0","t":5.91,"v":-0.18},{"s":"tc=2.0","t":7.09,"v":-0.16},{"s":"tc=2.0","t":8.51,"v":-0.11},{"s":"tc=2.0","t":10.2,"v":-0.075},{"s":"tc=2.0","t":12.3,"v":-0.05},{"s":"tc=2.0","t":14.7,"v":-0.03},{"s":"tc=2.0","t":17.7,"v":-0.015},{"s":"tc=2.0","t":21.2,"v":-0.01},{"s":"tc=2.0","t":25.4,"v":-0.005},{"s":"tc=2.0","t":30.5,"v":0},{"s":"tc=2.0","t":36.6,"v":0},
{"s":"tc=10.0","t":0.01,"v":1},{"s":"tc=10.0","t":0.012,"v":1},{"s":"tc=10.0","t":0.0144,"v":1},{"s":"tc=10.0","t":0.0173,"v":1},{"s":"tc=10.0","t":0.0207,"v":1},{"s":"tc=10.0","t":0.0249,"v":1},{"s":"tc=10.0","t":0.0299,"v":1},{"s":"tc=10.0","t":0.0358,"v":1},{"s":"tc=10.0","t":0.043,"v":1},{"s":"tc=10.0","t":0.0516,"v":1},{"s":"tc=10.0","t":0.0619,"v":1},{"s":"tc=10.0","t":0.0743,"v":1},{"s":"tc=10.0","t":0.0892,"v":1},{"s":"tc=10.0","t":0.107,"v":0.999},{"s":"tc=10.0","t":0.128,"v":0.998},{"s":"tc=10.0","t":0.154,"v":0.997},{"s":"tc=10.0","t":0.185,"v":0.995},{"s":"tc=10.0","t":0.222,"v":0.992},{"s":"tc=10.0","t":0.266,"v":0.988},{"s":"tc=10.0","t":0.319,"v":0.982},{"s":"tc=10.0","t":0.383,"v":0.975},{"s":"tc=10.0","t":0.46,"v":0.965},{"s":"tc=10.0","t":0.552,"v":0.955},{"s":"tc=10.0","t":0.662,"v":0.945},{"s":"tc=10.0","t":0.795,"v":0.925},{"s":"tc=10.0","t":0.954,"v":0.895},{"s":"tc=10.0","t":1.14,"v":0.855},{"s":"tc=10.0","t":1.37,"v":0.8},{"s":"tc=10.0","t":1.65,"v":0.73},{"s":"tc=10.0","t":1.98,"v":0.63},{"s":"tc=10.0","t":2.37,"v":0.5},{"s":"tc=10.0","t":2.85,"v":0.38},{"s":"tc=10.0","t":3.42,"v":0.245},{"s":"tc=10.0","t":4.1,"v":0.14},{"s":"tc=10.0","t":4.92,"v":0.045},{"s":"tc=10.0","t":5.91,"v":-0.05},{"s":"tc=10.0","t":7.09,"v":-0.1},{"s":"tc=10.0","t":8.51,"v":-0.12},{"s":"tc=10.0","t":10.2,"v":-0.12},{"s":"tc=10.0","t":12.3,"v":-0.1},{"s":"tc=10.0","t":14.7,"v":-0.085},{"s":"tc=10.0","t":17.7,"v":-0.065},{"s":"tc=10.0","t":21.2,"v":-0.045},{"s":"tc=10.0","t":25.4,"v":-0.035},{"s":"tc=10.0","t":30.5,"v":-0.03},{"s":"tc=10.0","t":36.6,"v":-0.025},
{"s":"tc=50.0","t":0.01,"v":1},{"s":"tc=50.0","t":0.012,"v":1},{"s":"tc=50.0","t":0.0144,"v":1},{"s":"tc=50.0","t":0.0173,"v":1},{"s":"tc=50.0","t":0.0207,"v":1},{"s":"tc=50.0","t":0.0249,"v":1},{"s":"tc=50.0","t":0.0299,"v":1},{"s":"tc=50.0","t":0.0358,"v":1},{"s":"tc=50.0","t":0.043,"v":1},{"s":"tc=50.0","t":0.0516,"v":1},{"s":"tc=50.0","t":0.0619,"v":1},{"s":"tc=50.0","t":0.0743,"v":1},{"s":"tc=50.0","t":0.0892,"v":1},{"s":"tc=50.0","t":0.107,"v":1},{"s":"tc=50.0","t":0.128,"v":0.999},{"s":"tc=50.0","t":0.154,"v":0.999},{"s":"tc=50.0","t":0.185,"v":0.999},{"s":"tc=50.0","t":0.222,"v":0.998},{"s":"tc=50.0","t":0.266,"v":0.996},{"s":"tc=50.0","t":0.319,"v":0.993},{"s":"tc=50.0","t":0.383,"v":0.988},{"s":"tc=50.0","t":0.46,"v":0.98},{"s":"tc=50.0","t":0.552,"v":0.97},{"s":"tc=50.0","t":0.662,"v":0.96},{"s":"tc=50.0","t":0.795,"v":0.945},{"s":"tc=50.0","t":0.954,"v":0.93},{"s":"tc=50.0","t":1.14,"v":0.91},{"s":"tc=50.0","t":1.37,"v":0.875},{"s":"tc=50.0","t":1.65,"v":0.815},{"s":"tc=50.0","t":1.98,"v":0.745},{"s":"tc=50.0","t":2.37,"v":0.665},{"s":"tc=50.0","t":2.85,"v":0.575},{"s":"tc=50.0","t":3.42,"v":0.45},{"s":"tc=50.0","t":4.1,"v":0.3},{"s":"tc=50.0","t":4.92,"v":0.18},{"s":"tc=50.0","t":5.91,"v":0.07},{"s":"tc=50.0","t":7.09,"v":-0.01},{"s":"tc=50.0","t":8.51,"v":-0.045},{"s":"tc=50.0","t":10.2,"v":-0.06},{"s":"tc=50.0","t":12.3,"v":-0.062},{"s":"tc=50.0","t":14.7,"v":-0.06},{"s":"tc=50.0","t":17.7,"v":-0.055},{"s":"tc=50.0","t":21.2,"v":-0.05},{"s":"tc=50.0","t":25.4,"v":-0.045},{"s":"tc=50.0","t":30.5,"v":-0.035},{"s":"tc=50.0","t":36.6,"v":-0.03}
]
},
"resolve":{"scale":{"x":"independent","y":"independent","color":"independent","stroke":"independent","shape":"independent","fill":"independent","size":"independent"},"axis":{"x":"independent","y":"independent"}},
"spacing":0,
"vconcat":[
{"spacing":0,
 "resolve":{"scale":{"x":"independent","y":"independent","color":"independent","stroke":"independent","shape":"independent","fill":"independent","size":"independent"},"axis":{"x":"independent","y":"independent"}},
 "hconcat":[
 {"width":175,"height":120,
  "resolve":{"scale":{"y":"independent"},"axis":{"x":"independent","y":"independent"}},
  "layer":[
   {"data":{"name":"a"},"mark":{"type":"line","strokeWidth":1.5,"clip":true},
    "encoding":{
     "x":{"field":"t","type":"quantitative","scale":{"type":"log","domain":[0.01,150],"nice":false},"axis":{"values":[0.01,0.1,1,10,100],"labelExpr":"toString(datum.value)","tickSize":-6,"labelPadding":13.5,"title":"t","titlePadding":3}},
     "y":{"field":"v","type":"quantitative","scale":{"domain":[-1,1],"nice":false,"zero":false},"axis":{"values":[-1,-0.5,0,0.5,1],"labelExpr":"toString(datum.value)","tickSize":-5,"labelPadding":21,"title":"C\u2093(t)/C\u2093(0)","titlePadding":8}},
     "color":{"field":"s","type":"nominal","scale":{"domain":["tc=0.01","tc=0.5","tc=2.0","tc=10.0","tc=50.0"],"range":["#9400d3","#0000ff","#006e00","#c86428","#ff0000"]},"legend":null}
    }},
   {"data":{"name":"a"},"mark":{"type":"point","strokeWidth":1.2,"clip":true,"opacity":1},
    "encoding":{
     "x":{"field":"t","type":"quantitative","axis":{"orient":"bottom","values":[0.02,0.03,0.04,0.05,0.06,0.07,0.08,0.09,0.2,0.3,0.4,0.5,0.6,0.7,0.8,0.9,2,3,4,5,6,7,8,9,20,30,40,50,60,70,80,90],"labels":false,"tickSize":-3,"title":null}},
     "y":{"field":"v","type":"quantitative","scale":{"domain":[-1,1],"nice":false,"zero":false},"axis":null},
     "stroke":{"field":"s","type":"nominal","scale":{"domain":["tc=0.01","tc=0.5","tc=2.0","tc=10.0","tc=50.0"],"range":["#9400d3","#0000ff","#006e00","#c86428","#ff0000"]},"legend":null},
     "fill":{"field":"s","type":"nominal","scale":{"domain":["tc=0.01","tc=0.5","tc=2.0","tc=10.0","tc=50.0"],"range":["transparent","transparent","#006e00","transparent","#ff0000"]},"legend":null},
     "shape":{"field":"s","type":"nominal","scale":{"domain":["tc=0.01","tc=0.5","tc=2.0","tc=10.0","tc=50.0"],"range":["M-1,0H1M0,-1V1","M-1,-1L1,1M-1,1L1,-1","M-1,0H1M0,-1V1M-0.7,-0.7L0.7,0.7M-0.7,0.7L0.7,-0.7","square","square"]},"legend":null},
     "size":{"field":"s","type":"ordinal","scale":{"domain":["tc=0.01","tc=0.5","tc=2.0","tc=10.0","tc=50.0"],"range":[36,25,18,40,16]},"legend":null}
    }},
   {"data":{"name":"a"},"transform":[{"filter":"datum.t == 0.01"}],
    "layer":[
     {"mark":{"type":"rule","strokeWidth":1.5},"encoding":{"x":{"datum":0.258,"type":"quantitative","axis":null},"x2":{"datum":0.589},"y":{"field":"s","type":"nominal","scale":{"type":"point","domain":["tc=0.01","tc=0.5","tc=2.0","tc=10.0","tc=50.0"],"range":[52,107],"padding":0},"axis":null},"color":{"field":"s","type":"nominal","legend":null}}},
     {"mark":{"type":"point","strokeWidth":1.2,"opacity":1},"encoding":{"x":{"datum":0.39,"type":"quantitative","axis":null},"y":{"field":"s","type":"nominal","scale":{"type":"point","domain":["tc=0.01","tc=0.5","tc=2.0","tc=10.0","tc=50.0"],"range":[52,107],"padding":0},"axis":null},"stroke":{"field":"s","type":"nominal","legend":null},"fill":{"field":"s","type":"nominal","legend":null},"shape":{"field":"s","type":"nominal","legend":null},"size":{"field":"s","type":"ordinal","legend":null}}},
     {"mark":{"type":"text","align":"right","baseline":"middle","font":"Liberation Sans","fontSize":13},"encoding":{"x":{"datum":0.1754,"type":"quantitative","axis":null},"y":{"field":"s","type":"nominal","scale":{"type":"point","domain":["tc=0.01","tc=0.5","tc=2.0","tc=10.0","tc=50.0"],"range":[52,107],"padding":0},"axis":null},"text":{"field":"s","type":"nominal"}}}
    ]},
   {"data":{"values":[{}]},"mark":{"type":"text","align":"left","baseline":"middle","font":"Liberation Sans","fontSize":15},"encoding":{"x":{"datum":0.0111,"type":"quantitative","axis":null},"y":{"datum":0.83,"type":"quantitative","scale":{"domain":[-1,1],"nice":false,"zero":false},"axis":null},"text":{"value":"(a)"}}},
   {"data":{"values":[{}]},"mark":{"type":"text","align":"left","baseline":"middle","font":"Liberation Serif","fontSize":16},"encoding":{"x":{"datum":0.0455,"type":"quantitative","axis":null},"y":{"datum":0.83,"type":"quantitative","scale":{"domain":[-1,1],"nice":false,"zero":false},"axis":null},"text":{"value":"γ=0.1"}}}
  ]},
 {"width":175,"height":120,
  "resolve":{"scale":{"y":"independent"},"axis":{"x":"independent","y":"independent"}},
  "layer":[
   {"data":{"name":"b"},"mark":{"type":"line","strokeWidth":1.5,"clip":true},
    "encoding":{
     "x":{"field":"t","type":"quantitative","scale":{"type":"log","domain":[0.01,100],"nice":false},"axis":{"values":[0.01,0.1,1,10,100],"labelExpr":"toString(datum.value)","tickSize":-6,"labelPadding":13.5,"title":"t","titlePadding":3}},
     "y":{"field":"v","type":"quantitative","scale":{"domain":[-1,1],"nice":false,"zero":false},"axis":{"values":[-1,-0.5,0,0.5,1],"labelExpr":"toString(datum.value)","tickSize":-5,"labelPadding":10.5,"title":"C\u1d65(t)/C\u1d65(0)","titlePadding":13}},
     "color":{"field":"s","type":"nominal","scale":{"domain":["tc=0.01","tc=0.5","tc=2.0","tc=10.0","tc=50.0"],"range":["#9400d3","#0000ff","#006e00","#c86428","#ff0000"]},"legend":null}
    }},
   {"data":{"name":"b"},"mark":{"type":"point","strokeWidth":1.2,"clip":true,"opacity":1},
    "encoding":{
     "x":{"field":"t","type":"quantitative","axis":{"orient":"bottom","values":[0.02,0.03,0.04,0.05,0.06,0.07,0.08,0.09,0.2,0.3,0.4,0.5,0.6,0.7,0.8,0.9,2,3,4,5,6,7,8,9,20,30,40,50,60,70,80,90],"labels":false,"tickSize":-3,"title":null}},
     "y":{"field":"v","type":"quantitative","scale":{"domain":[-1,1],"nice":false,"zero":false},"axis":null},
     "stroke":{"field":"s","type":"nominal","scale":{"domain":["tc=0.01","tc=0.5","tc=2.0","tc=10.0","tc=50.0"],"range":["#9400d3","#0000ff","#006e00","#c86428","#ff0000"]},"legend":null},
     "fill":{"field":"s","type":"nominal","scale":{"domain":["tc=0.01","tc=0.5","tc=2.0","tc=10.0","tc=50.0"],"range":["transparent","transparent","#006e00","transparent","#ff0000"]},"legend":null},
     "shape":{"field":"s","type":"nominal","scale":{"domain":["tc=0.01","tc=0.5","tc=2.0","tc=10.0","tc=50.0"],"range":["M-1,0H1M0,-1V1","M-1,-1L1,1M-1,1L1,-1","M-1,0H1M0,-1V1M-0.7,-0.7L0.7,0.7M-0.7,0.7L0.7,-0.7","square","square"]},"legend":null},
     "size":{"field":"s","type":"ordinal","scale":{"domain":["tc=0.01","tc=0.5","tc=2.0","tc=10.0","tc=50.0"],"range":[36,25,18,40,16]},"legend":null}
    }},
   {"data":{"name":"b"},"transform":[{"filter":"datum.t == 0.01"}],
    "layer":[
     {"mark":{"type":"rule","strokeWidth":1.5},"encoding":{"x":{"datum":0.219,"type":"quantitative","axis":null},"x2":{"datum":0.481},"y":{"field":"s","type":"nominal","scale":{"type":"point","domain":["tc=0.01","tc=0.5","tc=2.0","tc=10.0","tc=50.0"],"range":[52,107],"padding":0},"axis":null},"color":{"field":"s","type":"nominal","legend":null}}},
     {"mark":{"type":"point","strokeWidth":1.2,"opacity":1},"encoding":{"x":{"datum":0.325,"type":"quantitative","axis":null},"y":{"field":"s","type":"nominal","scale":{"type":"point","domain":["tc=0.01","tc=0.5","tc=2.0","tc=10.0","tc=50.0"],"range":[52,107],"padding":0},"axis":null},"stroke":{"field":"s","type":"nominal","legend":null},"fill":{"field":"s","type":"nominal","legend":null},"shape":{"field":"s","type":"nominal","legend":null},"size":{"field":"s","type":"ordinal","legend":null}}},
     {"mark":{"type":"text","align":"right","baseline":"middle","font":"Liberation Sans","fontSize":13},"encoding":{"x":{"datum":0.152,"type":"quantitative","axis":null},"y":{"field":"s","type":"nominal","scale":{"type":"point","domain":["tc=0.01","tc=0.5","tc=2.0","tc=10.0","tc=50.0"],"range":[52,107],"padding":0},"axis":null},"text":{"field":"s","type":"nominal"}}}
    ]},
   {"data":{"values":[{}]},"mark":{"type":"text","align":"left","baseline":"middle","font":"Liberation Sans","fontSize":15},"encoding":{"x":{"datum":0.0104,"type":"quantitative","axis":null},"y":{"datum":0.83,"type":"quantitative","scale":{"domain":[-1,1],"nice":false,"zero":false},"axis":null},"text":{"value":"(b)"}}},
   {"data":{"values":[{}]},"mark":{"type":"text","align":"left","baseline":"middle","font":"Liberation Serif","fontSize":16},"encoding":{"x":{"datum":0.0545,"type":"quantitative","axis":null},"y":{"datum":0.83,"type":"quantitative","scale":{"domain":[-1,1],"nice":false,"zero":false},"axis":null},"text":{"value":"γ=0.1"}}}
  ]}
 ]},
{"spacing":12,
 "resolve":{"scale":{"x":"independent","y":"independent","color":"independent","stroke":"independent","shape":"independent","fill":"independent","size":"independent"},"axis":{"x":"independent","y":"independent"}},
 "hconcat":[
 {"width":175,"height":122,
  "resolve":{"scale":{"y":"independent"},"axis":{"x":"independent","y":"independent"}},
  "layer":[
   {"data":{"name":"c"},"mark":{"type":"line","strokeWidth":1.5,"clip":true},
    "encoding":{
     "x":{"field":"t","type":"quantitative","scale":{"type":"log","domain":[0.01,250],"nice":false},"axis":{"values":[0.01,0.1,1,10,100],"labelExpr":"toString(datum.value)","tickSize":-6,"labelPadding":15,"title":"t","titlePadding":9}},
     "y":{"field":"v","type":"quantitative","scale":{"domain":[-0.15,1],"nice":false,"zero":false},"axis":{"values":[0,0.5,1],"labelExpr":"toString(datum.value)","tickSize":-5,"labelPadding":13,"title":"C\u2093(t)/C\u2093(0)","titlePadding":20.5}},
     "color":{"field":"s","type":"nominal","scale":{"domain":["tc=0.01","tc=0.5","tc=2.0","tc=10.0","tc=50.0"],"range":["#9400d3","#0000ff","#006e00","#c86428","#ff0000"]},"legend":null}
    }},
   {"data":{"name":"c"},"mark":{"type":"point","strokeWidth":1.2,"clip":true,"opacity":1},
    "encoding":{
     "x":{"field":"t","type":"quantitative","axis":{"orient":"bottom","values":[0.02,0.03,0.04,0.05,0.06,0.07,0.08,0.09,0.2,0.3,0.4,0.5,0.6,0.7,0.8,0.9,2,3,4,5,6,7,8,9,20,30,40,50,60,70,80,90,200],"labels":false,"tickSize":-3,"title":null}},
     "y":{"field":"v","type":"quantitative","scale":{"domain":[-0.15,1],"nice":false,"zero":false},"axis":null},
     "stroke":{"field":"s","type":"nominal","scale":{"domain":["tc=0.01","tc=0.5","tc=2.0","tc=10.0","tc=50.0"],"range":["#9400d3","#0000ff","#006e00","#c86428","#ff0000"]},"legend":null},
     "fill":{"field":"s","type":"nominal","scale":{"domain":["tc=0.01","tc=0.5","tc=2.0","tc=10.0","tc=50.0"],"range":["transparent","transparent","#006e00","transparent","#ff0000"]},"legend":null},
     "shape":{"field":"s","type":"nominal","scale":{"domain":["tc=0.01","tc=0.5","tc=2.0","tc=10.0","tc=50.0"],"range":["M-1,0H1M0,-1V1","M-1,-1L1,1M-1,1L1,-1","M-1,0H1M0,-1V1M-0.7,-0.7L0.7,0.7M-0.7,0.7L0.7,-0.7","square","square"]},"legend":null},
     "size":{"field":"s","type":"ordinal","scale":{"domain":["tc=0.01","tc=0.5","tc=2.0","tc=10.0","tc=50.0"],"range":[36,25,18,40,16]},"legend":null}
    }},
   {"data":{"name":"c"},"transform":[{"filter":"datum.t == 0.01"}],
    "layer":[
     {"mark":{"type":"rule","strokeWidth":1.5},"encoding":{"x":{"datum":0.3,"type":"quantitative","axis":null},"x2":{"datum":0.712},"y":{"field":"s","type":"nominal","scale":{"type":"point","domain":["tc=0.01","tc=0.5","tc=2.0","tc=10.0","tc=50.0"],"range":[53.6,108.6],"padding":0},"axis":null},"color":{"field":"s","type":"nominal","legend":null}}},
     {"mark":{"type":"point","strokeWidth":1.2,"opacity":1},"encoding":{"x":{"datum":0.462,"type":"quantitative","axis":null},"y":{"field":"s","type":"nominal","scale":{"type":"point","domain":["tc=0.01","tc=0.5","tc=2.0","tc=10.0","tc=50.0"],"range":[53.6,108.6],"padding":0},"axis":null},"stroke":{"field":"s","type":"nominal","legend":null},"fill":{"field":"s","type":"nominal","legend":null},"shape":{"field":"s","type":"nominal","legend":null},"size":{"field":"s","type":"ordinal","legend":null}}},
     {"mark":{"type":"text","align":"right","baseline":"middle","font":"Liberation Sans","fontSize":13},"encoding":{"x":{"datum":0.2004,"type":"quantitative","axis":null},"y":{"field":"s","type":"nominal","scale":{"type":"point","domain":["tc=0.01","tc=0.5","tc=2.0","tc=10.0","tc=50.0"],"range":[53.6,108.6],"padding":0},"axis":null},"text":{"field":"s","type":"nominal"}}}
    ]},
   {"data":{"values":[{}]},"mark":{"type":"text","align":"left","baseline":"middle","font":"Liberation Sans","fontSize":15},"encoding":{"x":{"datum":0.0111,"type":"quantitative","axis":null},"y":{"datum":0.86,"type":"quantitative","scale":{"domain":[-0.15,1],"nice":false,"zero":false},"axis":null},"text":{"value":"(c)"}}},
   {"data":{"values":[{}]},"mark":{"type":"text","align":"right","baseline":"middle","font":"Liberation Serif","fontSize":16},"encoding":{"x":{"datum":214,"type":"quantitative","axis":null},"y":{"datum":0.86,"type":"quantitative","scale":{"domain":[-0.15,1],"nice":false,"zero":false},"axis":null},"text":{"value":"γ=3.0"}}}
  ]},
 {"width":175,"height":122,
  "resolve":{"scale":{"y":"independent"},"axis":{"x":"independent","y":"independent"}},
  "layer":[
   {"data":{"name":"d"},"mark":{"type":"line","strokeWidth":1.5,"clip":true},
    "encoding":{
     "x":{"field":"t","type":"quantitative","scale":{"type":"log","domain":[0.01,35],"nice":false},"axis":{"values":[0.01,0.1,1,10],"labelExpr":"toString(datum.value)","tickSize":-6,"labelPadding":15,"title":"t","titlePadding":9}},
     "y":{"field":"v","type":"quantitative","scale":{"domain":[-0.3,1],"nice":false,"zero":false},"axis":{"values":[0,0.5,1],"labelExpr":"toString(datum.value)","tickSize":-5,"labelPadding":10,"title":"C\u1d65(t)/C\u1d65(0)","titlePadding":13.3}},
     "color":{"field":"s","type":"nominal","scale":{"domain":["tc=0.01","tc=0.5","tc=2.0","tc=10.0","tc=50.0"],"range":["#9400d3","#0000ff","#006e00","#c86428","#ff0000"]},"legend":null}
    }},
   {"data":{"name":"d"},"mark":{"type":"point","strokeWidth":1.2,"clip":true,"opacity":1},
    "encoding":{
     "x":{"field":"t","type":"quantitative","axis":{"orient":"bottom","values":[0.02,0.03,0.04,0.05,0.06,0.07,0.08,0.09,0.2,0.3,0.4,0.5,0.6,0.7,0.8,0.9,2,3,4,5,6,7,8,9,20,30],"labels":false,"tickSize":-3,"title":null}},
     "y":{"field":"v","type":"quantitative","scale":{"domain":[-0.3,1],"nice":false,"zero":false},"axis":null},
     "stroke":{"field":"s","type":"nominal","scale":{"domain":["tc=0.01","tc=0.5","tc=2.0","tc=10.0","tc=50.0"],"range":["#9400d3","#0000ff","#006e00","#c86428","#ff0000"]},"legend":null},
     "fill":{"field":"s","type":"nominal","scale":{"domain":["tc=0.01","tc=0.5","tc=2.0","tc=10.0","tc=50.0"],"range":["transparent","transparent","#006e00","transparent","#ff0000"]},"legend":null},
     "shape":{"field":"s","type":"nominal","scale":{"domain":["tc=0.01","tc=0.5","tc=2.0","tc=10.0","tc=50.0"],"range":["M-1,0H1M0,-1V1","M-1,-1L1,1M-1,1L1,-1","M-1,0H1M0,-1V1M-0.7,-0.7L0.7,0.7M-0.7,0.7L0.7,-0.7","square","square"]},"legend":null},
     "size":{"field":"s","type":"ordinal","scale":{"domain":["tc=0.01","tc=0.5","tc=2.0","tc=10.0","tc=50.0"],"range":[36,25,18,40,16]},"legend":null}
    }},
   {"data":{"name":"d"},"transform":[{"filter":"datum.t == 0.01"}],
    "layer":[
     {"mark":{"type":"rule","strokeWidth":1.5},"encoding":{"x":{"datum":0.156,"type":"quantitative","axis":null},"x2":{"datum":0.315},"y":{"field":"s","type":"nominal","scale":{"type":"point","domain":["tc=0.01","tc=0.5","tc=2.0","tc=10.0","tc=50.0"],"range":[53.6,108.6],"padding":0},"axis":null},"color":{"field":"s","type":"nominal","legend":null}}},
     {"mark":{"type":"point","strokeWidth":1.2,"opacity":1},"encoding":{"x":{"datum":0.222,"type":"quantitative","axis":null},"y":{"field":"s","type":"nominal","scale":{"type":"point","domain":["tc=0.01","tc=0.5","tc=2.0","tc=10.0","tc=50.0"],"range":[53.6,108.6],"padding":0},"axis":null},"stroke":{"field":"s","type":"nominal","legend":null},"fill":{"field":"s","type":"nominal","legend":null},"shape":{"field":"s","type":"nominal","legend":null},"size":{"field":"s","type":"ordinal","legend":null}}},
     {"mark":{"type":"text","align":"right","baseline":"middle","font":"Liberation Sans","fontSize":13},"encoding":{"x":{"datum":0.113,"type":"quantitative","axis":null},"y":{"field":"s","type":"nominal","scale":{"type":"point","domain":["tc=0.01","tc=0.5","tc=2.0","tc=10.0","tc=50.0"],"range":[53.6,108.6],"padding":0},"axis":null},"text":{"field":"s","type":"nominal"}}}
    ]},
   {"data":{"values":[{}]},"mark":{"type":"text","align":"left","baseline":"middle","font":"Liberation Sans","fontSize":15},"encoding":{"x":{"datum":0.0112,"type":"quantitative","axis":null},"y":{"datum":0.84,"type":"quantitative","scale":{"domain":[-0.3,1],"nice":false,"zero":false},"axis":null},"text":{"value":"(d)"}}},
   {"data":{"values":[{}]},"mark":{"type":"text","align":"right","baseline":"middle","font":"Liberation Serif","fontSize":16},"encoding":{"x":{"datum":28.5,"type":"quantitative","axis":null},"y":{"datum":0.84,"type":"quantitative","scale":{"domain":[-0.3,1],"nice":false,"zero":false},"axis":null},"text":{"value":"γ=3.0"}}}
  ]}
 ]}
]
}
